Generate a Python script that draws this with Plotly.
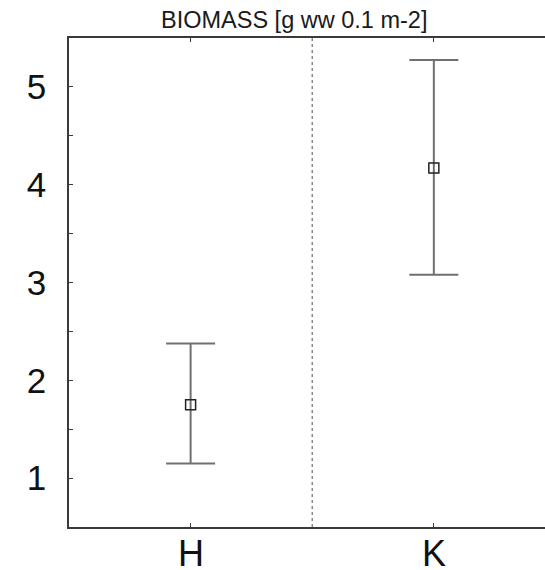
import plotly.graph_objects as go

# Site groups and biomass summary (mean with lower/upper interval bounds)
groups = ["H", "K"]
mean_biomass = [1.75, 4.17]
upper_bound = [2.377, 5.274]
lower_bound = [1.150, 3.079]

err_plus = [u - m for u, m in zip(upper_bound, mean_biomass)]
err_minus = [m - l for m, l in zip(mean_biomass, lower_bound)]

y_tick_vals = [1, 2, 3, 4, 5]
y_minor_vals = [0.5, 1.5, 2.5, 3.5, 4.5, 5.5]

FONT = "Liberation Sans, Arial, sans-serif"
AXIS_COLOR = "#3a3a3a"
x_pos = list(range(len(groups)))

fig = go.Figure()

fig.add_trace(go.Scatter(
    x=x_pos,
    y=mean_biomass,
    mode="markers",
    marker=dict(symbol="square-open", size=10, color="#222222",
                line=dict(width=1.5, color="#222222")),
    error_y=dict(type="data", symmetric=False, array=err_plus,
                 arrayminus=err_minus, color="#707070", thickness=2,
                 width=24.5),
    showlegend=False,
    hoverinfo="skip",
))

# Dotted divider between the two groups
fig.add_vline(x=0.5, line=dict(color="#777777", width=1.3, dash="dot"))

# Category labels placed just under the x axis
annotations = [dict(
    text=g, x=xi, xref="x", y=0, yref="paper",
    xanchor="center", yanchor="top", yshift=-4,
    showarrow=False,
    font=dict(size=36, family=FONT, color="#111111"),
) for xi, g in zip(x_pos, groups)]

annotations.append(dict(
    text="BIOMASS [g ww 0.1 m-2]",
    xref="paper", yref="paper",
    x=(293.5 - 69) / 476, y=1.0,
    xanchor="center", yanchor="bottom", yshift=3,
    showarrow=False,
    font=dict(size=23.5, family=FONT, color="#1a1a1a"),
))

fig.update_layout(
    width=545,
    height=570,
    margin=dict(l=69, r=0, t=38, b=43),
    paper_bgcolor="white",
    plot_bgcolor="white",
    font=dict(family=FONT, color="#111111"),
    xaxis=dict(
        range=[-0.5, 1.457],
        tickvals=x_pos,
        showticklabels=False,
        ticks="inside",
        ticklen=4,
        tickwidth=1.2,
        tickcolor=AXIS_COLOR,
        showline=True,
        linecolor=AXIS_COLOR,
        linewidth=1.5,
        mirror="ticks",
        showgrid=False,
        zeroline=False,
        automargin=False,
        fixedrange=True,
    ),
    yaxis=dict(
        range=[0.5, 5.5],
        tickvals=y_tick_vals,
        ticktext=[str(v) for v in y_tick_vals],
        ticks="inside",
        ticklen=4,
        tickwidth=1.2,
        tickcolor=AXIS_COLOR,
        minor=dict(tickvals=y_minor_vals, ticks="inside", ticklen=4,
                   tickwidth=1.2, tickcolor=AXIS_COLOR),
        showline=True,
        linecolor=AXIS_COLOR,
        linewidth=1.5,
        showgrid=False,
        zeroline=False,
        automargin=False,
        ticklabelstandoff=14,
        tickfont=dict(size=35, family=FONT, color="#111111"),
        fixedrange=True,
    ),
    annotations=annotations,
)

fig.write_html("out.html")
